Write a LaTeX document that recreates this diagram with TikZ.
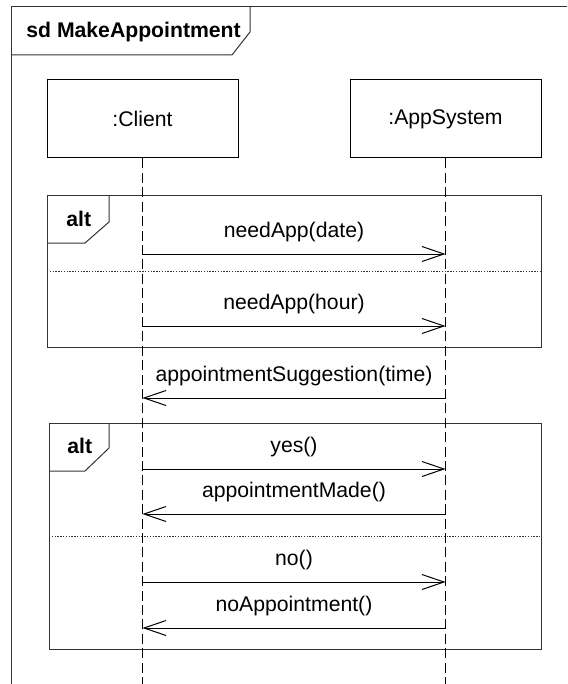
\documentclass[tikz,border=0pt]{standalone}
\usepackage{fontspec}
\setmainfont{Liberation Sans}
\usetikzlibrary{arrows.meta}

\begin{document}
\begin{tikzpicture}[x=0.5pt, y=-0.5pt,
            every node/.style={font=\fontsize{10.6}{12.7}\selectfont},
            frm/.style={line width=.5pt, black!80},
            sep/.style={line width=.4pt, black!80, dash pattern=on .7pt off .7pt},
            life/.style={line width=.5pt, black, dash pattern=on 5pt off 2.2pt},
            obj/.style={draw, line width=.5pt, minimum width=95.5pt, minimum height=39pt, inner sep=0pt},
            msg/.style={line width=.5pt, -{Straight Barb[length=11pt, width=7.5pt, line width=.5pt]}},
            lbl/.style={midway, anchor=base, yshift=8.5pt},
            tabtxt/.style={anchor=base west, inner sep=0pt, font=\fontsize{10.6}{12.7}\selectfont\bfseries}]
            \useasboundingbox (0,0) rectangle (567,684);
            \clip (0,0) rectangle (567,684);

            % outer frame, cut off at the right and bottom
            \draw [frm] (11,700) -- (11,7) -- (580,7);
            \draw [frm] (11,55) -- (232,55) -- (250,32) -- (250,7);
            \node [tabtxt] (sd) at (26,38) {sd MakeAppointment};

            \node [obj] (client) at (142.5,119) {:Client};
            \node [obj] (appsys) at (445.5,119) {:AppSystem};

            % first alt
            \draw [frm] (47,196) rectangle (541,347);
            \draw [frm] (47,243) -- (85,243) -- (109,222) -- (109,196);
            \node [tabtxt] (alt1) at (66,227) {alt};
            \draw [sep] (47,271) -- (541,271);

            % second alt
            \draw [frm] (49,423) rectangle (541,649);
            \draw [frm] (49,471) -- (85,471) -- (109,448) -- (109,423);
            \node [tabtxt] (alt2) at (67,453) {alt};
            \draw [sep] (49,536) -- (541,536);

            % lifelines
            \coordinate (clientEnd) at (client.south |- 0,700);
            \coordinate (appsysEnd) at (appsys.south |- 0,700);
            \draw [life] (client.south) -- (clientEnd);
            \draw [life] (appsys.south) -- (appsysEnd);

            \foreach \n/\y in {1/254,2/326,3/398,4/469,5/514,6/582,7/628} {
            \coordinate (cl\n) at (client.south |- 0,\y);
            \coordinate (as\n) at (appsys.south |- 0,\y);}

            \draw [msg] (cl1) -- node [lbl] {needApp(date)} (as1);
            \draw [msg] (cl2) -- node [lbl] {needApp(hour)} (as2);
            \draw [msg] (as3) -- node [lbl] {appointmentSuggestion(time)} (cl3);
            \draw [msg] (cl4) -- node [lbl] {yes()} (as4);
            \draw [msg] (as5) -- node [lbl] {appointmentMade()} (cl5);
            \draw [msg] (cl6) -- node [lbl] {no()} (as6);
            \draw [msg] (as7) -- node [lbl] {noAppointment()} (cl7);
        \end{tikzpicture}
\end{document}
